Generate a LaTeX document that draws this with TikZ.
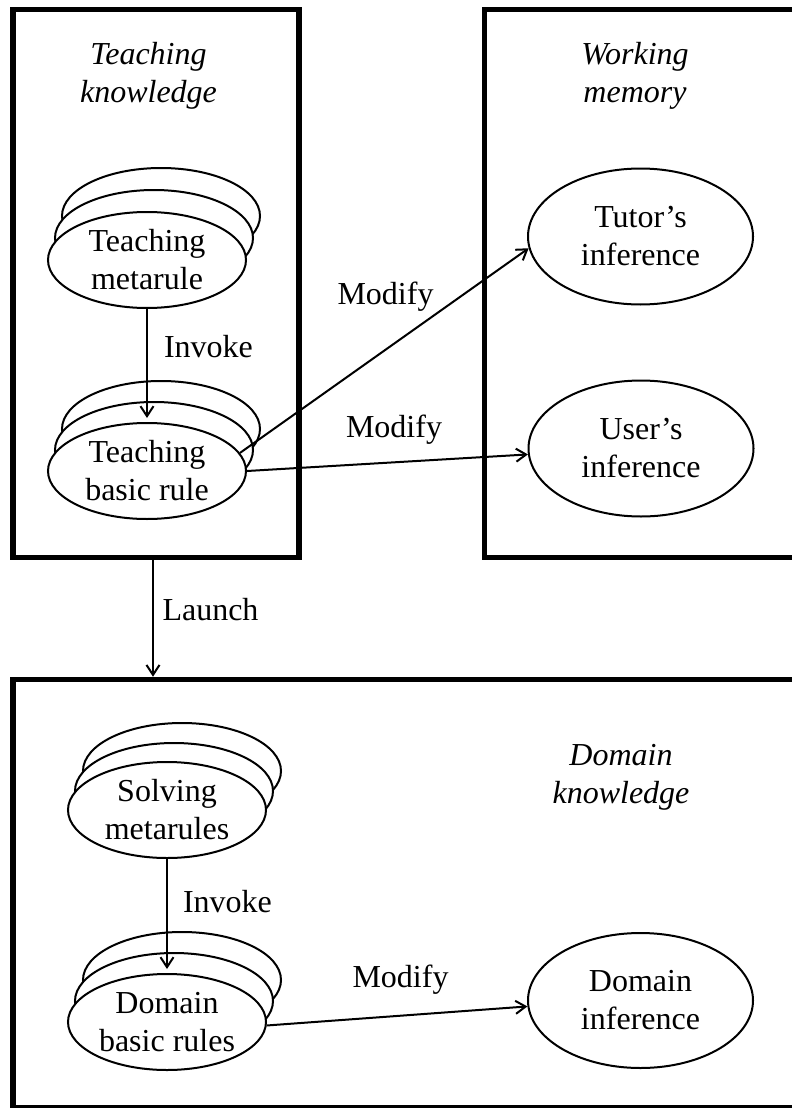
\documentclass[tikz,border=0pt]{standalone}
\usepackage{fontspec}
\setmainfont{Liberation Serif}
\usetikzlibrary{arrows.meta,shapes.geometric}
\begin{document}
\begin{tikzpicture}[x=1pt,y=-1pt,
  txt/.style={font=\fontsize{32}{38}\selectfont},
  frame/.style={draw, rectangle, line width=5.5pt, inner sep=0pt},
  rulebox/.style={ellipse, draw, line width=2pt, fill=white, minimum width=198pt,
    minimum height=96pt, inner sep=0pt, align=center, txt},
  store/.style={ellipse, draw, line width=2pt, fill=white, minimum width=225pt,
    minimum height=136pt, inner sep=0pt, align=center, txt},
  title/.style={align=center, inner sep=0pt, font=\fontsize{32}{38}\selectfont\itshape},
  lab/.style={inner sep=0pt, anchor=base, txt},
  link/.style={line width=2pt, -{Straight Barb[length=10pt,width=13pt]}}
]
\useasboundingbox (0,0) rectangle (792,1108);

% knowledge frames (the right-hand ones run past the page edge)
\node[frame, minimum width=286pt, minimum height=548pt] (lbox) at (156,283.5) {};
\node[frame, minimum width=345.5pt, minimum height=548pt] (rbox) at (657.25,283.5) {};
\node[frame, minimum width=817pt, minimum height=428.5pt] (bbox) at (421.5,893.75) {};

% frame titles
\node[title] (tk) at (148.5,75.5) {Teaching\\knowledge};
\node[title] (wm) at (635,75.5) {Working\\memory};
\node[title] (dk) at (621,777.5) {Domain\\knowledge};

% stacked rule sets: two copies behind each front ellipse
\node[rulebox] (tm3) at (161,216) {};
\node[rulebox] (tm2) at (154,238) {};
\node[rulebox] (tm)  at (147,260) {Teaching\\metarule};

\node[rulebox] (tb3) at (161,429) {};
\node[rulebox] (tb2) at (154,450) {};
\node[rulebox] (tb)  at (147,471) {Teaching\\basic rule};

\node[rulebox] (sm3) at (182,771) {};
\node[rulebox] (sm2) at (174,791) {};
\node[rulebox] (sm)  at (167,810) {Solving\\metarules};

\node[rulebox] (db3) at (182,980) {};
\node[rulebox] (db2) at (174,1001) {};
\node[rulebox] (db)  at (167,1022) {Domain\\basic rules};

% inference stores
\node[store] (tutor) at (640.5,236.5) {Tutor’s\\inference};
\node[store] (user)  at (641,448.5) {User’s\\inference};
\node[store, minimum height=135pt] (di) at (640.5,1000.5) {Domain\\inference};

% connectors
\draw[link, shorten >=4pt] (tm.south) -- (tb.north);
\draw[link] (tb.11) -- (tutor.186);
\draw[link] (tb.east) -- (user.183);
\draw[link] ([xshift=-3pt]lbox.south) -- ([xshift=-3pt]lbox.south |- bbox.north);
\draw[link, shorten >=4pt] (sm.south) -- (db.north);
\draw[link] (db.-2) -- (di.183);

% connector labels
\node[lab] (inv1) at (208.5,357) {Invoke};
\node[lab] (mod1) at (385.5,304) {Modify};
\node[lab] (mod2) at (394,437) {Modify};
\node[lab] (lau)  at (210.5,620) {Launch};
\node[lab] (inv2) at (227.5,912) {Invoke};
\node[lab] (mod3) at (400.5,987) {Modify};
\end{tikzpicture}
\end{document}
